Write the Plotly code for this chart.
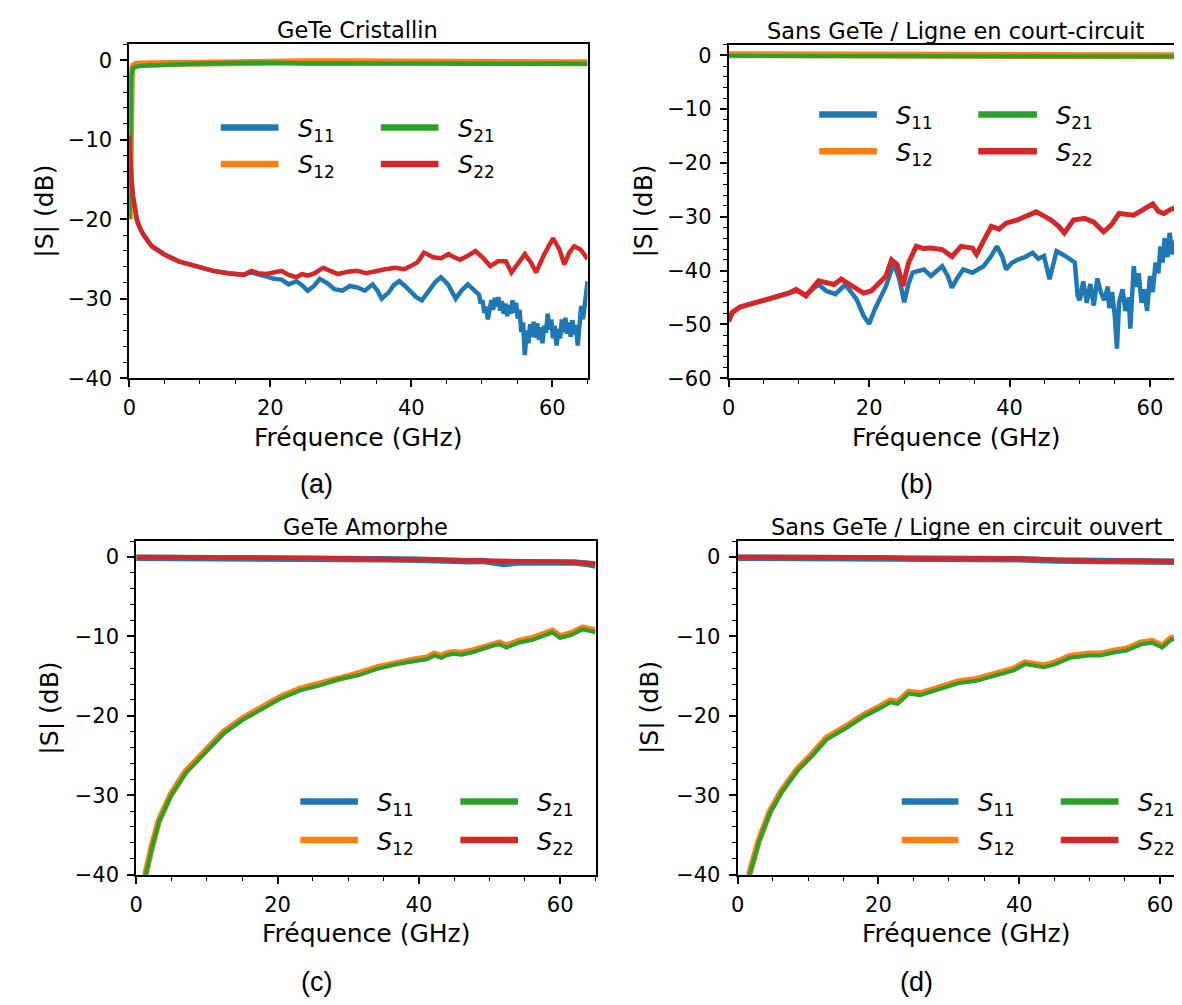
import plotly.graph_objects as go

W, H = 1182, 1005
FONT = "DejaVu Sans"
C11, C12, C21, C22 = "#1f77b4", "#ff7f0e", "#2ca02c", "#d62728"

# ---------------- data ----------------
# (a) GeTe Cristallin
a_s11_f = [0, 0.1, 0.3, 0.5, 0.8, 1.1, 1.6, 2.2, 3.2, 4.9, 7, 9.7, 11.9, 14, 16.2, 17.3, 18.3, 19.4, 20.5, 21.6,
           22.6, 23.7, 24.5, 25.3, 26.2, 27, 28, 29.1, 30.2, 31.3, 32.4, 33.4, 34.5, 35.2, 35.8, 36.8, 37.5, 38.3,
           39.1, 39.9, 40.7, 41.5, 42.6, 43.4, 44.2, 45.2, 46.3, 47.1, 48, 48.8,
           49.6, 49.85, 50.1, 50.35, 50.6, 50.85, 51.1, 51.35, 51.6, 51.85, 52.1, 52.35, 52.6, 52.85, 53.1, 53.35,
           53.6, 53.85, 54.1, 54.35, 54.6, 54.85, 55.1, 55.35, 55.6, 55.85, 56.1, 56.35, 56.6, 56.85, 57.1, 57.35,
           57.6, 57.85, 58.1, 58.35, 58.6, 58.85, 59.1, 59.35, 59.6, 59.85, 60.1, 60.35, 60.6, 60.85, 61.1, 61.35,
           61.6, 61.85, 62.1, 62.35, 62.6, 62.85, 63.1, 63.35, 63.6, 63.85, 64.1, 64.35, 64.6, 64.85, 65]
a_s11_db = [-9.5, -12, -15, -17, -19, -20.2, -21.3, -22.2, -23.4, -24.4, -25.3, -26.0, -26.5, -26.8, -27.0, -26.7,
            -26.9, -27.2, -27.5, -27.6, -28.2, -27.8, -28.3, -29.0, -28.4, -27.5, -28.0, -28.8, -29.0, -28.4, -28.6,
            -29.0, -28.2, -29.0, -30.0, -29.2, -28.3, -27.8, -28.4, -29.2, -29.8, -30.2, -28.8, -27.9, -27.3, -28.2,
            -30.0, -29.0, -28.2, -28.9,
            -29.5, -30.6, -30.2, -31.8, -31.0, -32.6, -31.2, -30.2, -31.4, -29.9, -31.0, -29.8, -31.5, -30.3, -31.9,
            -30.6, -32.2, -30.8, -31.9, -30.2, -31.8, -30.5, -32.5, -31.4, -34.2, -33.0, -37.1, -34.0, -35.6, -33.2,
            -34.8, -32.9, -34.9, -33.1, -35.2, -33.6, -35.6, -33.4, -34.3, -31.9, -33.9, -32.6, -35.0, -33.4, -35.9,
            -33.8, -35.0, -32.6, -34.2, -32.4, -34.4, -33.0, -34.8, -32.7, -34.5, -33.3, -35.9, -32.5, -30.9, -32.6,
            -30.4, -29.2, -27.8]
a_s12_f = [0, 0.05, 0.15, 0.3, 0.6, 1, 3, 6, 10, 15, 20, 25, 30, 35, 40, 45, 50, 55, 60, 65]
a_s12_db = [-20, -12, -3, -1.2, -0.7, -0.5, -0.45, -0.4, -0.3, -0.2, -0.2, -0.2, -0.2, -0.25, -0.25, -0.3, -0.3,
            -0.35, -0.3, -0.3]
a_s21_f = [0, 0.1, 0.25, 0.5, 1, 2, 4, 7, 10, 15, 20, 25, 30, 35, 40, 45, 50, 55, 60, 65]
a_s21_db = [-20, -8, -2, -1.0, -0.8, -0.7, -0.6, -0.5, -0.4, -0.35, -0.3, -0.4, -0.35, -0.4, -0.4, -0.45, -0.4,
            -0.45, -0.4, -0.45]
a_s22_f = [0, 0.1, 0.3, 0.5, 0.8, 1.1, 1.6, 2.2, 3.2, 4.9, 7, 9.7, 11.9, 14, 16.2, 17.3, 18.3, 19.4, 20.5, 21.6,
           22.6, 23.7, 24.5, 25.3, 26.3, 27.5, 28.5, 29.6, 31, 32.3, 33.6, 35, 36.3, 37.7, 39, 39.9, 40.9, 41.8,
           43.1, 44.2, 45.3, 46.1, 46.9, 48, 49.1, 50.2, 51.2, 52.3, 53.4, 54.2, 55.2, 56.1, 57, 57.7, 58.8, 60.1,
           61, 61.7, 62.4, 63.1, 64, 64.7, 65]
a_s22_db = [-9.5, -12, -15, -17, -19, -20.2, -21.3, -22.2, -23.4, -24.4, -25.3, -26.0, -26.5, -26.8, -27.0, -26.5,
            -26.8, -26.9, -26.7, -26.5, -27.0, -27.3, -26.9, -27.1, -26.8, -26.1, -26.5, -26.9, -26.6, -26.5, -26.8,
            -26.5, -26.3, -26.1, -26.3, -25.9, -25.4, -24.2, -24.8, -24.9, -24.4, -24.8, -25.1, -24.6, -24.0, -24.9,
            -25.9, -25.3, -25.3, -26.7, -25.5, -24.4, -25.5, -26.7, -24.5, -22.4, -23.8, -25.7, -24.2, -23.4, -23.8,
            -24.6, -25.0]

# (b) Sans GeTe / Ligne en court-circuit
b_s11_f = [0, 0.5, 1.6, 3.2, 5.9, 8.5, 9.6, 11, 12.8, 13.9, 15.2, 16.6, 18.2, 19.2, 20, 20.8, 22.4, 23.5, 24.3,
           25, 25.6, 26.2, 27.8, 28.8, 30.4, 31.2, 31.8, 32.5, 33.4, 34.7, 36.3, 37.3, 38.2, 39, 39.5, 40.3, 41.1,
           42.2, 43.3, 44.1, 44.9, 45.7, 46.7, 47.8, 48.9,
           49.3, 49.7, 50.0, 50.5, 51.0, 51.5, 52.0, 52.5, 53.0, 53.5, 54.0, 54.2, 54.6, 55.0, 55.3, 55.6, 56.1,
           56.5, 57.0, 57.2, 57.5, 57.7, 58.0, 58.4, 58.8, 59.2, 59.6, 60.0, 60.4, 60.8, 61.2, 61.5, 61.8, 62.1,
           62.5, 62.8, 63.2, 63.6, 64.0, 64.4, 64.7, 65]
b_s11_db = [-49.5, -47.8, -46.8, -46.2, -45.3, -44.2, -43.8, -44.5, -42.6, -43.8, -44.4, -42.6, -45.3, -48.4,
            -49.9, -47.2, -42.9, -38.6, -41.6, -45.9, -42.5, -40.4, -39.8, -41.0, -39.2, -41.0, -43.2, -41.5, -39.8,
            -40.4, -39.2, -37.5, -35.5, -37.5, -39.8, -38.6, -38.0, -37.5, -36.7, -37.8, -37.3, -41.6, -36.4, -37.2,
            -38.0,
            -38.5, -44.7, -45.5, -42.0, -46.0, -42.5, -46.5, -41.5, -44.0, -45.5, -43.0, -47.0, -44.0, -48.5, -54.5,
            -46.0, -43.5, -47.5, -45.0, -50.8, -42.0, -39.2, -43.0, -40.5, -46.0, -43.5, -47.5, -41.0, -44.0, -38.5,
            -40.5, -35.5, -38.5, -34.0, -37.5, -33.0, -37.0, -34.5, -37.0, -34.0, -36.0, -33.7]
b_s12_f = [0, 10, 20, 30, 40, 50, 60, 65]
b_s12_db = [0.1, 0.1, 0.05, 0.0, 0.0, -0.05, -0.1, -0.1]
b_s21_f = [0, 10, 20, 30, 40, 50, 60, 65]
b_s21_db = [-0.1, -0.1, -0.15, -0.2, -0.2, -0.2, -0.25, -0.25]
b_s22_f = [0, 0.5, 1.6, 3.2, 5.9, 8.5, 9.6, 11, 12.8, 13.9, 15, 16, 17.6, 19.2, 20.3, 21.4, 22.4, 23.2, 24, 24.8,
           25.6, 26.7, 27.7, 28.8, 30.4, 31.8, 33.1, 34.7, 35.3, 36.3, 37.4, 38.5, 39.5, 41.1, 42.2, 43.8, 44.8,
           45.9, 47, 47.8, 49.1, 50.7, 52, 53.4, 54.5, 55.6, 57.7, 59, 60.4, 61.2, 62, 63, 64.1, 65]
b_s22_db = [-49.3, -47.8, -46.8, -46.2, -45.3, -44.2, -43.5, -44.7, -41.9, -42.3, -42.6, -41.6, -42.9, -44.2,
            -43.8, -42.3, -41.0, -38.0, -38.9, -42.9, -38.6, -35.5, -35.9, -35.8, -36.1, -37.4, -35.5, -35.8, -37.0,
            -34.5, -31.8, -32.3, -31.2, -30.6, -30.0, -29.1, -29.8, -30.6, -31.8, -33.0, -30.6, -30.3, -31.0, -32.8,
            -31.5, -29.4, -29.7, -28.6, -27.6, -29.0, -29.4, -28.6, -28.2, -27.6]

# (c) GeTe Amorphe
c_s11_f = [0, 5, 10, 15, 20, 25, 30, 35, 40, 43, 45, 47, 49, 51, 52, 54, 56, 58, 60, 62, 64, 65]
c_s11_db = [-0.1, -0.1, -0.1, -0.15, -0.2, -0.25, -0.3, -0.3, -0.35, -0.5, -0.6, -0.55, -0.5, -0.75, -0.9, -0.7,
            -0.65, -0.6, -0.6, -0.7, -0.9, -1.1]
c_s12_f = [0.8, 1.35, 2.2, 3.2, 4.9, 7, 9.7, 12.4, 15.1, 17.8, 20.5, 23.2, 25.9, 28.6, 31.4, 34.1, 36.8, 39.5,
           41.1, 42.2, 43.2, 43.8, 44.9, 46, 47.6, 50.3, 51.4, 52.4, 54.1, 56.2, 57.8, 58.9, 60, 61.6, 63.2, 65]
c_s12_db = [-44.8, -39.8, -36.5, -33.2, -29.9, -27.0, -24.5, -22.0, -20.3, -18.9, -17.6, -16.6, -16.0, -15.2,
            -14.7, -13.9, -13.3, -12.9, -12.7, -12.2, -12.5, -12.2, -12.0, -12.1, -11.8, -11.0, -10.8, -11.2, -10.6,
            -10.2, -9.6, -9.3, -10.0, -9.6, -8.9, -9.3]
c_s21_f = [0.8, 1.35, 2.2, 3.2, 4.9, 7, 9.7, 12.4, 15.1, 17.8, 20.5, 23.2, 25.9, 28.6, 31.4, 34.1, 36.8, 39.5,
           41.1, 42.2, 43.2, 43.8, 44.9, 46, 47.6, 50.3, 51.4, 52.4, 54.1, 56.2, 57.8, 58.9, 60, 61.6, 63.2, 65]
c_s21_db = [-45, -40, -36.7, -33.4, -30.1, -27.2, -24.7, -22.2, -20.5, -19.1, -17.8, -16.8, -16.2, -15.4, -14.9,
            -14.1, -13.5, -13.1, -12.9, -12.4, -12.7, -12.4, -12.2, -12.3, -12.0, -11.2, -11.0, -11.4, -10.8, -10.4,
            -9.8, -9.5, -10.2, -9.8, -9.1, -9.5]
c_s22_f = [0, 10, 20, 25, 30, 35, 40, 45, 50, 55, 60, 65]
c_s22_db = [0.0, 0.0, -0.1, -0.15, -0.2, -0.25, -0.3, -0.45, -0.5, -0.55, -0.6, -0.8]

# (d) Sans GeTe / Ligne en circuit ouvert
d_s11_f = [0, 10, 20, 25, 30, 35, 40, 45, 50, 52, 55, 58, 60, 62, 64.3]
d_s11_db = [-0.1, -0.1, -0.15, -0.25, -0.2, -0.25, -0.3, -0.45, -0.45, -0.65, -0.5, -0.45, -0.55, -0.6, -0.7]
d_s12_f = [1.2, 1.7, 3.0, 4.6, 6.2, 8.4, 10.5, 12.6, 15.3, 17.9, 20.1, 21.7, 22.7, 24.3, 25.9, 28.6, 31.3, 33.9,
           36.6, 39.2, 40.8, 42.4, 43.5, 45.1, 47.2, 49.9, 51.5, 53.6, 55.2, 57.3, 58.9, 60.3, 61.6, 63.2, 64.3]
d_s12_db = [-42.8, -39.8, -35.7, -32.0, -29.5, -26.8, -24.9, -22.8, -21.4, -19.9, -18.9, -18.1, -18.3, -17.0,
            -17.2, -16.4, -15.7, -15.4, -14.7, -14.1, -13.3, -13.5, -13.7, -13.3, -12.5, -12.2, -12.2, -11.8, -11.6,
            -10.8, -10.6, -11.2, -10.2, -10.2, -10.4]
d_s21_f = [1.2, 1.7, 3.0, 4.6, 6.2, 8.4, 10.5, 12.6, 15.3, 17.9, 20.1, 21.7, 22.7, 24.3, 25.9, 28.6, 31.3, 33.9,
           36.6, 39.2, 40.8, 42.4, 43.5, 45.1, 47.2, 49.9, 51.5, 53.6, 55.2, 57.3, 58.9, 60.3, 61.6, 63.2, 64.3]
d_s21_db = [-43, -40, -35.9, -32.2, -29.7, -27.0, -25.1, -23.0, -21.6, -20.1, -19.1, -18.3, -18.5, -17.2, -17.4,
            -16.6, -15.9, -15.6, -14.9, -14.3, -13.5, -13.7, -13.9, -13.5, -12.7, -12.4, -12.4, -12.0, -11.8, -11.0,
            -10.8, -11.4, -10.4, -10.4, -10.6]
d_s22_f = [0, 10, 20, 25, 30, 35, 40, 45, 50, 52, 55, 58, 60, 62, 64.3]
d_s22_db = [0, 0, -0.05, -0.2, -0.15, -0.2, -0.2, -0.35, -0.4, -0.55, -0.45, -0.4, -0.5, -0.5, -0.6]

titles = ["GeTe Cristallin", "Sans GeTe / Ligne en court-circuit", "GeTe Amorphe",
          "Sans GeTe / Ligne en circuit ouvert"]
sublabels = ["(a)", "(b)", "(c)", "(d)"]
series_names = ["S11", "S12", "S21", "S22"]
series_labels = ["<i>S</i><sub>11</sub>", "<i>S</i><sub>12</sub>", "<i>S</i><sub>21</sub>", "<i>S</i><sub>22</sub>"]
x_label = "Fréquence (GHz)"
y_label = "|S| (dB)"
x_ticks = [0, 20, 40, 60]

panels = [
    [(a_s11_f, a_s11_db), (a_s12_f, a_s12_db), (a_s21_f, a_s21_db), (a_s22_f, a_s22_db)],
    [(b_s11_f, b_s11_db), (b_s12_f, b_s12_db), (b_s21_f, b_s21_db), (b_s22_f, b_s22_db)],
    [(c_s11_f, c_s11_db), (c_s12_f, c_s12_db), (c_s21_f, c_s21_db), (c_s22_f, c_s22_db)],
    [(d_s11_f, d_s11_db), (d_s12_f, d_s12_db), (d_s21_f, d_s21_db), (d_s22_f, d_s22_db)],
]
colors = [C11, C12, C21, C22]
# line widths per panel (S11, S12, S21, S22) - thicker where the measured trace is noisy
widths = [[4.5, 7, 4.5, 4.5], [4.5, 7, 4, 5], [6.5, 6.5, 4, 4.5], [6.5, 6.5, 4, 4.5]]

# ---------------- layout geometry (pixels) ----------------
def px(x):
    return x / W


def py(y):
    return 1 - y / H


boxes = [(115, 576, 35, 374), (718, 1177, 36, 374), (122, 584, 539, 877), (727, 1182, 539, 877)]
xranges = [[0, 65], [0, 65], [0, 65], [0, 64.26]]
yranges = [[-40, 2.1], [-60, 2.0], [-40, 2.0], [-40, 2.0]]
title_cx = [345, 947, 353, 957]
ylab_cx = [30, 632, 35, 639]
xlab_cx = [345, 947, 353, 957]
xlab_cy = [434, 434, 937, 937]
sub_cx = [303, 907, 303, 907]
sub_cy = [481, 481, 986, 986]
leg_rows = [(120, 157), (107, 144), (803, 842), (803, 842)]
leg_cols = [((207, 265, 283), (368, 426, 444)), ((809, 867, 884), (969, 1028, 1045)),
            ((287, 345, 362), (448, 506, 523)), ((892, 949, 967), (1052, 1110, 1128))]

fig = go.Figure()
annotations = []
shapes = []

for i, data in enumerate(panels):
    n = "" if i == 0 else str(i + 1)
    for k, ((f, db), name, col) in enumerate(zip(data, series_names, colors)):
        fig.add_trace(go.Scatter(x=f, y=db, mode="lines", name=name, showlegend=False,
                                 line=dict(color=col, width=widths[i][k]), xaxis="x" + n, yaxis="y" + n))
    x0, x1, y0, y1 = boxes[i]
    common = dict(showline=True, linecolor="black", linewidth=2, ticks="outside", ticklen=7, tickwidth=1.6,
                  tickcolor="black", showgrid=False, zeroline=False,
                  tickfont=dict(family=FONT, size=21, color="black"))
    fig.update_layout(**{
        "xaxis" + n: dict(domain=[px(x0), px(x1)], range=xranges[i], anchor="y" + n, mirror=True,
                          tickvals=x_ticks, ticklabelstandoff=3,
                          minor=dict(dtick=5, ticks="outside", ticklen=4, tickwidth=1.2,
                                     tickcolor="black", showgrid=False), **common),
        "yaxis" + n: dict(domain=[py(y1), py(y0)], range=yranges[i], anchor="x" + n, mirror=(i != 3),
                          dtick=10, ticklabelstandoff=4,
                          minor=dict(dtick=2, ticks="outside", ticklen=4, tickwidth=1.2,
                                     tickcolor="black", showgrid=False), **common),
    })
    # panel title
    annotations.append(dict(text=titles[i], x=px(title_cx[i]), y=py(y0 + 1), xref="paper", yref="paper",
                            xanchor="center", yanchor="bottom", showarrow=False,
                            font=dict(family=FONT, size=22.5, color="black")))
    # axis titles
    annotations.append(dict(text=x_label, x=px(xlab_cx[i]), y=py(xlab_cy[i]), xref="paper", yref="paper",
                            xanchor="center", yanchor="middle", showarrow=False,
                            font=dict(family=FONT, size=25, color="black")))
    annotations.append(dict(text=y_label, x=px(ylab_cx[i]), y=py((y0 + y1) / 2), xref="paper", yref="paper",
                            xanchor="center", yanchor="middle", textangle=-90, showarrow=False,
                            font=dict(family=FONT, size=25, color="black")))
    annotations.append(dict(text=sublabels[i], x=px(sub_cx[i]), y=py(sub_cy[i]), xref="paper", yref="paper",
                            xanchor="center", yanchor="middle", showarrow=False,
                            font=dict(family="Liberation Sans", size=27, color="black")))
    # legend (2 columns, matplotlib column-major order)
    order = [(0, 0, 0), (1, 0, 1), (2, 1, 0), (3, 1, 1)]  # series idx, column, row
    for s, c, r in order:
        lx0, lx1, tx = leg_cols[i][c]
        ly = leg_rows[i][r]
        shapes.append(dict(type="line", xref="paper", yref="paper", x0=px(lx0), x1=px(lx1), y0=py(ly), y1=py(ly),
                           line=dict(color=colors[s], width=6.5)))
        annotations.append(dict(text=series_labels[s], x=px(tx), y=py(ly + 3), xref="paper", yref="paper",
                                xanchor="left", yanchor="middle", showarrow=False,
                                font=dict(family=FONT, size=24, color="black")))

fig.update_layout(width=W, height=H, margin=dict(l=0, r=0, t=0, b=0), paper_bgcolor="white",
                  plot_bgcolor="white", showlegend=False, annotations=annotations, shapes=shapes,
                  font=dict(family=FONT, color="black"))

fig.write_html("out.html")
